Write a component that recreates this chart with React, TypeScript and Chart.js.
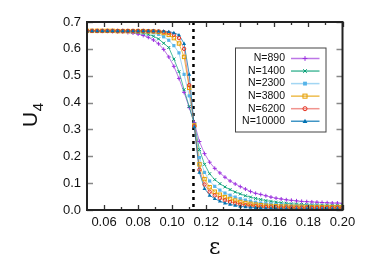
import React, { useEffect, useRef } from 'react';
import { Chart, registerables } from 'chart.js';

Chart.register(...registerables);

// ---------- data ----------
const EPS = [
  0.050, 0.053, 0.056, 0.059, 0.062, 0.065, 0.068, 0.071, 0.074, 0.077, 0.080,
  0.083, 0.086, 0.089, 0.092, 0.095, 0.098, 0.101, 0.104, 0.107, 0.110,
  0.113, 0.116, 0.119, 0.122, 0.125, 0.128, 0.131, 0.134, 0.137, 0.140,
  0.143, 0.146, 0.149, 0.152, 0.155, 0.158, 0.161, 0.164, 0.167, 0.170,
  0.173, 0.176, 0.179, 0.182, 0.185, 0.188, 0.191, 0.194, 0.197, 0.200,
];

const SERIES_NAMES = ['N=890', 'N=1400', 'N=2300', 'N=3800', 'N=6200', 'N=10000'];

const U_890 = [
  0.667, 0.667, 0.666, 0.666, 0.666, 0.665, 0.664, 0.663, 0.661, 0.659, 0.655,
  0.650, 0.643, 0.633, 0.619, 0.598, 0.570, 0.535, 0.490, 0.438, 0.382,
  0.325, 0.255, 0.210, 0.178, 0.155, 0.138, 0.122, 0.108, 0.097, 0.087,
  0.078, 0.069, 0.062, 0.058, 0.053, 0.048, 0.044, 0.041, 0.038, 0.036,
  0.034, 0.032, 0.031, 0.030, 0.029, 0.028, 0.027, 0.026, 0.026, 0.025,
];
const U_1400 = [
  0.667, 0.667, 0.667, 0.666, 0.666, 0.666, 0.665, 0.665, 0.664, 0.663, 0.661,
  0.658, 0.654, 0.647, 0.637, 0.621, 0.605, 0.562, 0.515, 0.448, 0.385,
  0.320, 0.225, 0.170, 0.135, 0.113, 0.098, 0.086, 0.076, 0.067, 0.060,
  0.053, 0.048, 0.043, 0.039, 0.035, 0.032, 0.029, 0.027, 0.025, 0.023,
  0.022, 0.021, 0.020, 0.019, 0.019, 0.018, 0.018, 0.017, 0.017, 0.017,
];
const U_2300 = [
  0.667, 0.667, 0.667, 0.667, 0.666, 0.666, 0.666, 0.666, 0.665, 0.665, 0.665,
  0.664, 0.663, 0.660, 0.654, 0.645, 0.632, 0.612, 0.585, 0.505, 0.425,
  0.318, 0.195, 0.140, 0.108, 0.088, 0.074, 0.063, 0.055, 0.048, 0.042,
  0.037, 0.033, 0.029, 0.026, 0.024, 0.022, 0.020, 0.019, 0.018, 0.017,
  0.016, 0.016, 0.015, 0.015, 0.015, 0.014, 0.014, 0.014, 0.014, 0.014,
];
const U_3800 = [
  0.667, 0.667, 0.667, 0.667, 0.667, 0.667, 0.666, 0.666, 0.666, 0.666, 0.666,
  0.666, 0.665, 0.665, 0.663, 0.659, 0.652, 0.640, 0.620, 0.570, 0.455,
  0.315, 0.170, 0.115, 0.085, 0.068, 0.057, 0.048, 0.041, 0.035, 0.030,
  0.026, 0.023, 0.020, 0.018, 0.016, 0.015, 0.014, 0.013, 0.013, 0.012,
  0.012, 0.012, 0.011, 0.011, 0.011, 0.011, 0.011, 0.011, 0.011, 0.011,
];
const U_6200 = [
  0.667, 0.667, 0.667, 0.667, 0.667, 0.667, 0.667, 0.667, 0.667, 0.667, 0.667,
  0.667, 0.666, 0.666, 0.665, 0.663, 0.660, 0.653, 0.640, 0.600, 0.465,
  0.312, 0.150, 0.095, 0.068, 0.054, 0.044, 0.036, 0.030, 0.025, 0.021,
  0.018, 0.016, 0.014, 0.012, 0.011, 0.010, 0.010, 0.009, 0.009, 0.009,
  0.008, 0.008, 0.008, 0.008, 0.008, 0.008, 0.008, 0.008, 0.008, 0.008,
];
const U_10000 = [
  0.667, 0.667, 0.667, 0.667, 0.667, 0.667, 0.667, 0.667, 0.667, 0.667, 0.667,
  0.667, 0.667, 0.667, 0.666, 0.666, 0.664, 0.660, 0.652, 0.620, 0.505,
  0.310, 0.140, 0.080, 0.055, 0.042, 0.033, 0.026, 0.021, 0.017, 0.014,
  0.012, 0.010, 0.009, 0.008, 0.007, 0.007, 0.006, 0.006, 0.006, 0.006,
  0.005, 0.005, 0.005, 0.005, 0.005, 0.005, 0.005, 0.005, 0.005, 0.005,
];

const X_TICKS = [0.06, 0.08, 0.10, 0.12, 0.14, 0.16, 0.18, 0.20];
const X_MINOR_TICKS = [0.07, 0.09, 0.11, 0.13, 0.15, 0.17, 0.19];
const Y_TICKS = [0.0, 0.1, 0.2, 0.3, 0.4, 0.5, 0.6, 0.7];
const CRIT_EPS = 0.1125;

// ---------- styles ----------
const LINE_COLORS = [
  'rgba(160,60,220,0.7)',
  'rgba(0,158,115,0.7)',
  'rgba(86,180,233,0.55)',
  'rgba(230,159,0,0.7)',
  'rgba(229,60,50,0.55)',
  'rgba(0,114,178,0.75)',
];
const MARK_COLORS = ['#9b30e0', '#009e73', '#56b4e9', '#e69f00', '#e5301e', '#0072b2'];
const MARK_STYLES = ['cross', 'crossRot', 'rect', 'rectOpen', 'circleOpen', 'triangle'];
const FONT = '"Liberation Sans", Arial, Helvetica, sans-serif';

function drawMarker(ctx: CanvasRenderingContext2D, style: string, x: number, y: number, r: number, color: string) {
  ctx.save();
  ctx.strokeStyle = color;
  ctx.fillStyle = color;
  ctx.lineWidth = 1;
  ctx.beginPath();
  if (style === 'cross') {
    ctx.moveTo(x - r, y); ctx.lineTo(x + r, y);
    ctx.moveTo(x, y - r); ctx.lineTo(x, y + r);
    ctx.stroke();
  } else if (style === 'crossRot') {
    const d = r * 0.75;
    ctx.moveTo(x - d, y - d); ctx.lineTo(x + d, y + d);
    ctx.moveTo(x - d, y + d); ctx.lineTo(x + d, y - d);
    ctx.stroke();
  } else if (style === 'rect') {
    ctx.fillRect(x - r * 0.8, y - r * 0.8, r * 1.6, r * 1.6);
  } else if (style === 'rectOpen') {
    ctx.strokeRect(x - r * 0.85, y - r * 0.85, r * 1.7, r * 1.7);
  } else if (style === 'circleOpen') {
    ctx.arc(x, y, r * 0.85, 0, Math.PI * 2);
    ctx.stroke();
  } else if (style === 'triangle') {
    ctx.moveTo(x, y - r);
    ctx.lineTo(x + r, y + r * 0.7);
    ctx.lineTo(x - r, y + r * 0.7);
    ctx.closePath();
    ctx.fill();
  }
  ctx.restore();
}

const ALL_SERIES = [U_890, U_1400, U_2300, U_3800, U_6200, U_10000];

const markerPlugin = {
  id: 'markers',
  afterDatasetsDraw(chart: any) {
    const { ctx, scales, chartArea } = chart;
    ctx.save();
    ctx.beginPath();
    ctx.rect(chartArea.left, chartArea.top - 3, chartArea.right - chartArea.left, chartArea.bottom - chartArea.top + 3);
    ctx.clip();
    ALL_SERIES.forEach((vals, i) => {
      EPS.forEach((e, j) => {
        drawMarker(ctx, MARK_STYLES[i], scales.x.getPixelForValue(e), scales.y.getPixelForValue(vals[j]), 2.0, MARK_COLORS[i]);
      });
    });
    ctx.restore();
  },
};

const decorPlugin = {
  id: 'decor',
  beforeDatasetsDraw(chart: any) {
    const { ctx, chartArea, scales } = chart;
    const x = scales.x.getPixelForValue(CRIT_EPS);
    ctx.save();
    ctx.strokeStyle = '#000';
    ctx.lineWidth = 2.5;
    ctx.setLineDash([3, 4]);
    ctx.beginPath();
    ctx.moveTo(x, chartArea.top);
    ctx.lineTo(x, chartArea.bottom);
    ctx.stroke();
    ctx.restore();
  },
  afterDatasetsDraw(chart: any) {
    const { ctx, chartArea, scales } = chart;
    const { left, right, top, bottom } = chartArea;
    ctx.save();
    // y ticks (grey, mirrored)
    ctx.strokeStyle = '#888';
    ctx.lineWidth = 1.3;
    Y_TICKS.forEach((v) => {
      const y = Math.round(scales.y.getPixelForValue(v)) + 0.5;
      ctx.beginPath();
      ctx.moveTo(left, y); ctx.lineTo(left + 6, y);
      ctx.moveTo(right, y); ctx.lineTo(right - 6, y);
      ctx.stroke();
    });
    // x ticks
    ctx.strokeStyle = '#333';
    X_TICKS.forEach((v) => {
      const x = Math.round(scales.x.getPixelForValue(v)) + 0.5;
      ctx.beginPath();
      ctx.moveTo(x, bottom); ctx.lineTo(x, bottom - 5);
      ctx.moveTo(x, top); ctx.lineTo(x, top + 5);
      ctx.stroke();
    });
    X_MINOR_TICKS.forEach((v) => {
      const x = Math.round(scales.x.getPixelForValue(v)) + 0.5;
      ctx.beginPath();
      ctx.moveTo(x, bottom); ctx.lineTo(x, bottom - 3);
      ctx.moveTo(x, top); ctx.lineTo(x, top + 3);
      ctx.stroke();
    });
    // border
    ctx.strokeStyle = '#222';
    ctx.lineWidth = 2;
    ctx.strokeRect(left, top, right - left, bottom - top);

    // legend
    const bx = 235.5, by = 48, bw = 90.5, bh = 84;
    ctx.fillStyle = '#fff';
    ctx.fillRect(bx, by, bw, bh);
    ctx.strokeStyle = '#444';
    ctx.lineWidth = 1;
    ctx.strokeRect(bx, by, bw, bh);
    ctx.font = `10.5px ${FONT}`;
    ctx.textAlign = 'right';
    ctx.textBaseline = 'middle';
    SERIES_NAMES.forEach((name, i) => {
      const y = 58.5 + i * 12.55;
      ctx.fillStyle = '#111';
      ctx.fillText(name, 285, y);
      ctx.strokeStyle = LINE_COLORS[i];
      ctx.lineWidth = 1.5;
      ctx.beginPath();
      ctx.moveTo(291, y); ctx.lineTo(319.5, y);
      ctx.stroke();
      drawMarker(ctx, MARK_STYLES[i], 305, y, 2.4, MARK_COLORS[i]);
    });

    // axis titles
    ctx.fillStyle = '#111';
    ctx.textAlign = 'left';
    ctx.textBaseline = 'alphabetic';
    ctx.save();
    ctx.translate(36.5, 127);
    ctx.rotate(-Math.PI / 2);
    ctx.font = `21px ${FONT}`;
    ctx.fillText('U', 0, 0);
    const uw = ctx.measureText('U').width;
    ctx.font = `15px ${FONT}`;
    ctx.fillText('4', uw + 0.5, 6.5);
    ctx.restore();
    ctx.font = `22px "DejaVu Serif", serif`;
    ctx.textAlign = 'center';
    ctx.fillText('ε', (left + right) / 2, 254);
    ctx.restore();
  },
};

export default function App() {
  const ref = useRef<HTMLCanvasElement>(null);
  useEffect(() => {
    const canvas = ref.current;
    if (!canvas) return;
    const datasets = ALL_SERIES.map((vals, i) => ({
      label: SERIES_NAMES[i],
      data: EPS.map((e, j) => ({ x: e, y: vals[j] })),
      borderColor: LINE_COLORS[i],
      borderWidth: 1,
      pointRadius: 0,
      order: ALL_SERIES.length - i,
    }));
    const chart = new Chart(canvas, {
      type: 'line',
      data: { datasets },
      options: {
        animation: false,
        responsive: false,
        devicePixelRatio: 1,
        parsing: false as any,
        layout: { padding: { top: 22, right: 31.5, left: 0, bottom: 0 } },
        plugins: { legend: { display: false }, tooltip: { enabled: false } },
        elements: { line: { tension: 0 } },
        scales: {
          x: {
            type: 'linear',
            min: 0.05,
            max: 0.2,
            grid: { display: false, drawTicks: false },
            border: { display: false },
            afterBuildTicks: (s: any) => { s.ticks = X_TICKS.map((v) => ({ value: v })); },
            afterFit: (s: any) => { s.height = 52; },
            ticks: {
              padding: 5,
              autoSkip: false,
              maxRotation: 0,
              color: '#111',
              font: { family: FONT, size: 13 },
              callback: (v: any) => Number(v).toFixed(2),
            },
          },
          y: {
            type: 'linear',
            min: 0,
            max: 0.7,
            grid: { display: false, drawTicks: false },
            border: { display: false },
            afterBuildTicks: (s: any) => { s.ticks = Y_TICKS.map((v) => ({ value: v })); },
            afterFit: (s: any) => { s.width = 87; },
            ticks: {
              padding: 6,
              color: '#111',
              font: { family: FONT, size: 13 },
              callback: (v: any) => Number(v).toFixed(1),
            },
          },
        },
      },
      plugins: [markerPlugin, decorPlugin],
    } as any);
    return () => chart.destroy();
  }, []);
  return (
    <div style={{ position: 'absolute', left: 0, top: 0, width: 374, height: 262 }}>
      <canvas ref={ref} width={374} height={262} />
    </div>
  );
}
